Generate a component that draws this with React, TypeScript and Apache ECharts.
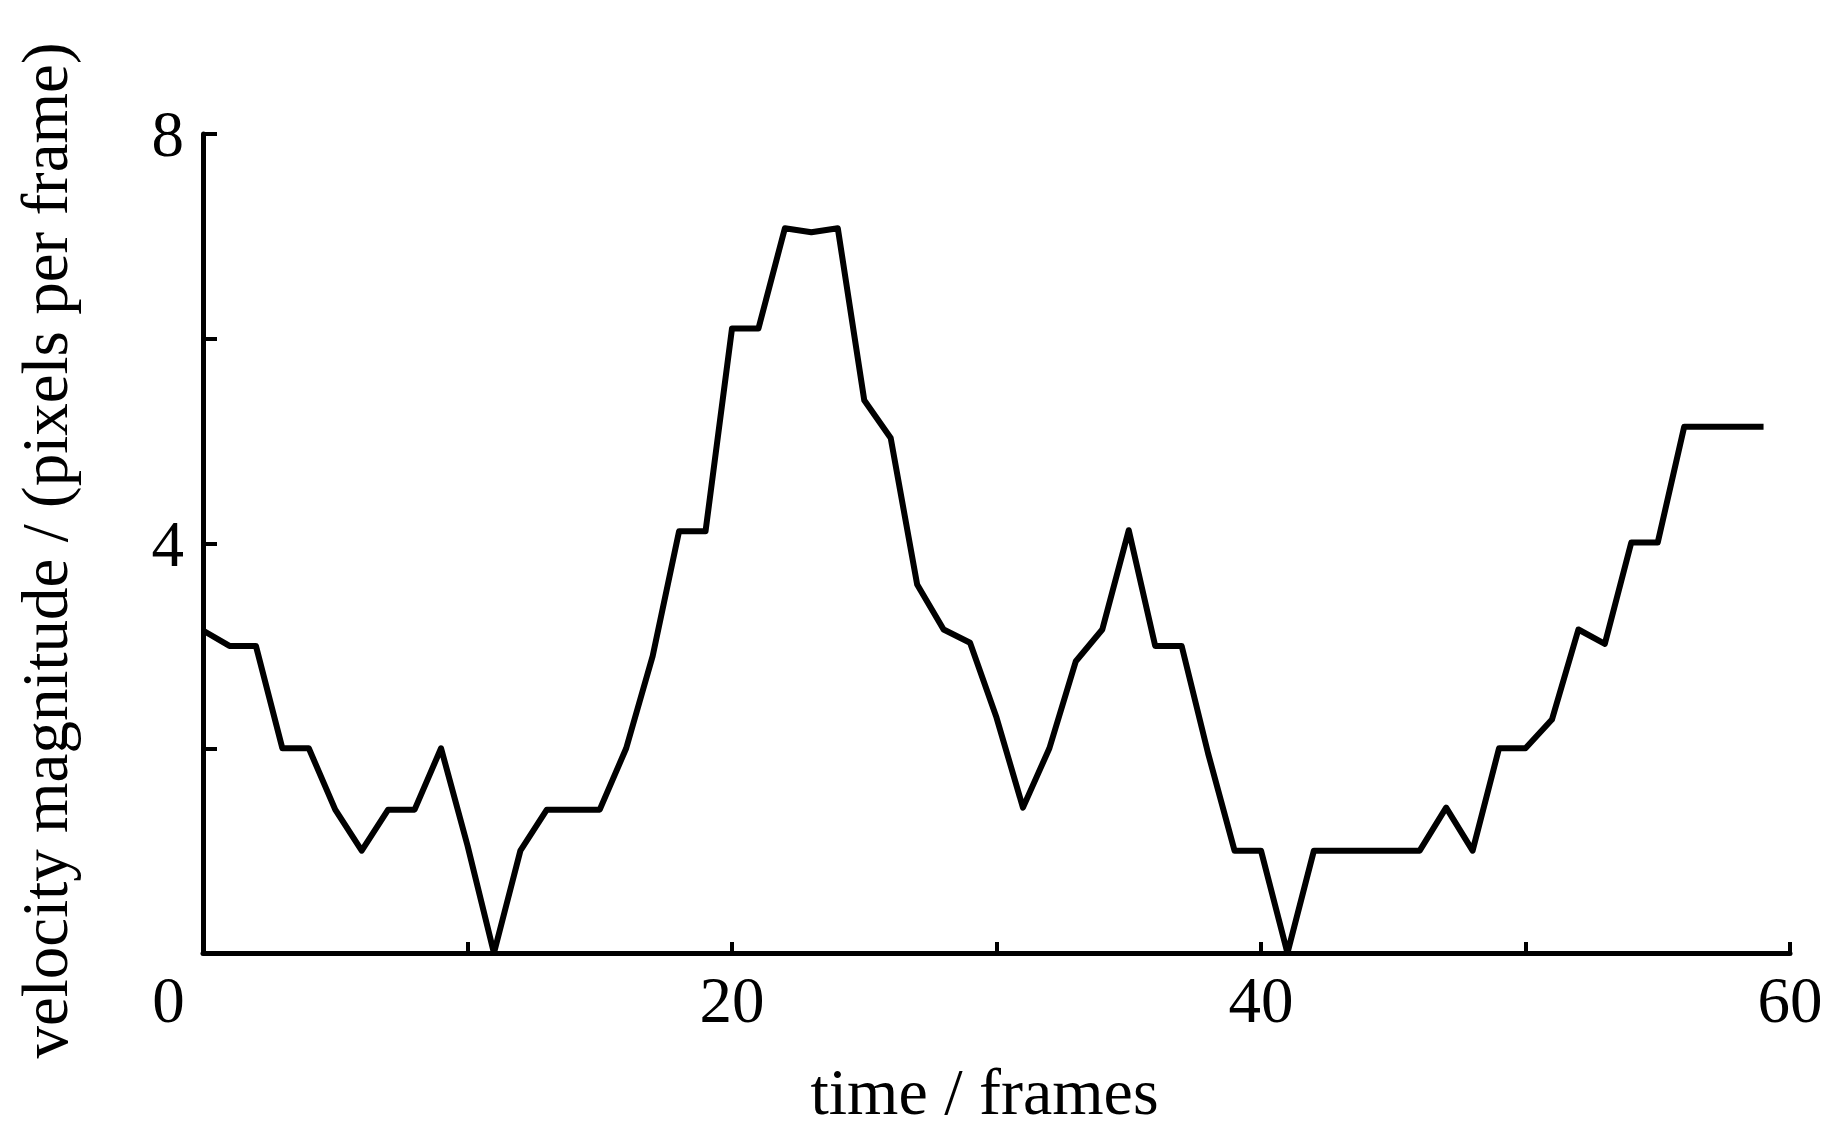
import React, { useEffect, useRef } from "react";
import * as echarts from "echarts";

// velocity magnitude per frame (frames 0..59)
const velocity: number[] = [
  3.15, 3.0, 3.0, 2.0, 2.0, 1.4, 1.0, 1.4, 1.4, 2.0,
  1.05, 0.0, 1.0, 1.4, 1.4, 1.4, 2.0, 2.9, 4.12, 4.12,
  6.1, 6.1, 7.08, 7.04, 7.08, 5.4, 5.03, 3.6, 3.16, 3.03,
  2.3, 1.42, 2.0, 2.85, 3.16, 4.13, 3.0, 3.0, 1.95, 1.0,
  1.0, 0.0, 1.0, 1.0, 1.0, 1.0, 1.0, 1.42, 1.0, 2.0,
  2.0, 2.28, 3.16, 3.02, 4.01, 4.01, 5.14, 5.14, 5.14, 5.14,
];

const xTickLabels: number[] = [0, 20, 40, 60];
const yTickLabels: number[] = [4, 8];

const xTitle = "time / frames";
const yTitle = "velocity magnitude / (pixels per frame)";

const FONT = "'Liberation Serif', 'Times New Roman', serif";

export default function App() {
  const ref = useRef<HTMLDivElement>(null);

  useEffect(() => {
    if (!ref.current) return;
    const chart = echarts.init(ref.current, undefined, { renderer: "svg" });
    const data = velocity.map((v, i) => [i, v]);
    chart.setOption({
      animation: false,
      backgroundColor: "#ffffff",
      grid: { left: 203, right: 38, top: 134, bottom: 171, containLabel: false },
      xAxis: {
        type: "value",
        min: 0,
        max: 60,
        interval: 10,
        name: xTitle,
        nameLocation: "middle",
        nameGap: 105,
        nameTextStyle: {
          fontFamily: FONT,
          fontSize: 66,
          color: "#000",
          padding: [0, 24, 0, 0],
        },
        axisLine: { show: true, lineStyle: { color: "#000", width: 5 } },
        axisTick: { show: true, inside: true, length: 11, lineStyle: { color: "#000", width: 4 } },
        splitLine: { show: false },
        axisLabel: {
          margin: 14,
          fontFamily: FONT,
          fontSize: 65,
          color: "#000",
          formatter: (v: number) => {
            if (!xTickLabels.includes(v)) return "";
            return v === 0 ? "{z|0}" : String(v);
          },
          rich: {
            z: {
              fontFamily: FONT,
              fontSize: 65,
              color: "#000",
              padding: [0, 69, 0, 0],
            },
          },
        },
      },
      yAxis: {
        type: "value",
        min: 0,
        max: 8,
        interval: 2,
        name: yTitle,
        nameLocation: "middle",
        nameGap: 126,
        nameTextStyle: {
          fontFamily: FONT,
          fontSize: 65,
          color: "#000",
          padding: [0, 14, 0, 0],
        },
        axisLine: { show: true, lineStyle: { color: "#000", width: 5 } },
        axisTick: { show: true, inside: true, length: 14, lineStyle: { color: "#000", width: 4 } },
        splitLine: { show: false },
        axisLabel: {
          margin: 19,
          fontFamily: FONT,
          fontSize: 65,
          color: "#000",
          formatter: (v: number) => (yTickLabels.includes(v) ? String(v) : ""),
        },
      },
      series: [
        {
          type: "line",
          data,
          showSymbol: false,
          symbol: "none",
          lineStyle: { color: "#000", width: 6, join: "round" },
          z: 3,
        },
      ],
    });
    return () => chart.dispose();
  }, []);

  return (
    <div
      ref={ref}
      style={{ position: "fixed", left: 0, top: 0, width: 1828, height: 1129, background: "#fff" }}
    />
  );
}
